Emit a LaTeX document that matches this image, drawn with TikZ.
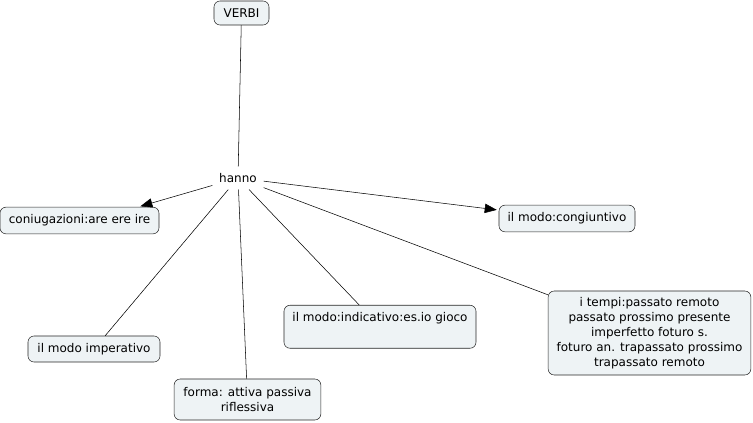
\documentclass[tikz,border=0pt]{standalone}
\usepackage{fontspec}
\setmainfont{DejaVu Sans}
\usepackage{tikz}
\usetikzlibrary{positioning, arrows.meta}

\definecolor{boxfill}{HTML}{EEF3F5}

\begin{document}
\begin{tikzpicture}[x=0.75pt, y=-0.75pt, >={Triangle[length=9pt, width=7pt]}, thin,
          concept/.style={draw=black!85, fill=boxfill, rounded corners=4.5pt, align=center,
                          font=\fontsize{9}{11.25}\selectfont, inner xsep=5pt, inner ysep=4pt,
                          minimum height=20pt},
          link/.style={font=\fontsize{9}{11.25}\selectfont, inner sep=5pt}
        ]
        \useasboundingbox (0,0) rectangle (753,423);

        \node[concept, minimum width=41.25pt, minimum height=18pt] (verbi) at (241.5,13) {VERBI};
        \node[link]    (hanno) at (238,178) {hanno};

        \node[concept, minimum width=119.25pt] (coniug) at (79.5,220.5) {coniugazioni:are ere ire};
        \node[concept, minimum width=102pt] (congiunt) at (567,218.5) {il modo:congiuntivo};
        \node[concept, minimum width=152pt, minimum height=63pt] (tempi) at (649.5,333)
            {i tempi:passato remoto\\ passato prossimo presente\\ imperfetto foturo s.\\
             foturo an. trapassato prossimo\\ trapassato remoto};
        \node[concept, minimum width=144pt, minimum height=32.25pt, inner ysep=5pt,
              text height=7pt, text depth=15pt, anchor=north] (indic) at (380,305)
            {il modo:indicativo:es.io gioco};
        \node[concept, minimum width=99pt, minimum height=19.5pt] (imperat) at (94,349) {il modo imperativo};
        \node[concept, minimum width=110pt, minimum height=30.75pt] (forma) at (247.5,399.5)
            {forma: attiva passiva\\ riflessiva};

        % collegamento dal titolo
        \draw (verbi) -- (hanno);

        % rami da "hanno"
        \draw[->, shorten >=1.5pt] (hanno) -- (coniug.13);
        \draw[->, shorten >=1.5pt] (hanno) -- (congiunt);
        \draw (hanno) -- (imperat);
        \draw (hanno) -- (forma);
        \draw (hanno) -- (indic);
        \draw (hanno) -- (tempi);
\end{tikzpicture}
\end{document}
